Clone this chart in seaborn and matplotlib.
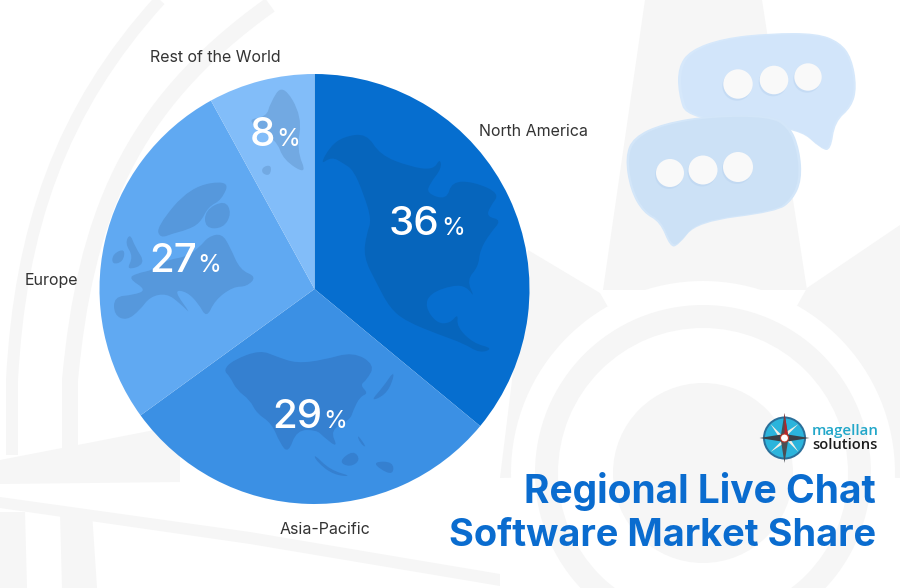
import matplotlib
matplotlib.use("Agg")
import matplotlib.pyplot as plt
import seaborn as sns
import numpy as np
from matplotlib.patches import Circle, Polygon, Wedge, PathPatch
from matplotlib.path import Path

regions = ["North America", "Asia-Pacific", "Europe", "Rest of the World"]
shares = [36, 29, 27, 8]
pie_colors = ["#066ecf", "#3b90e4", "#60a9f2", "#82bdf9"]
map_colors = ["#0665bc", "#3580d0", "#5698dc", "#72a9e2"]
title_lines = ["Regional Live Chat", "Software Market Share"]
title_sizes = [28, 27.3]

sns.set_theme(style="white")
plt.rcParams['font.family'] = ['Inter', 'DejaVu Sans']

H = 588
GREY = "#f6f6f6"


def flip(pts):
    return [(x, H - y) for x, y in pts]


def zoomed(pts):
    # outlines were traced on a 3x crop of the pie
    return [(90 + x / 3, 60 + y / 3) for x, y in pts]


def smooth(ax, pts, **kw):
    pts = flip(pts)
    start = ((pts[-1][0] + pts[0][0]) / 2, (pts[-1][1] + pts[0][1]) / 2)
    verts = [start]
    codes = [Path.MOVETO]
    n = len(pts)
    for i in range(n):
        a = pts[i]
        b = pts[(i + 1) % n]
        verts += [a, ((a[0] + b[0]) / 2, (a[1] + b[1]) / 2)]
        codes += [Path.CURVE3, Path.CURVE3]
    ax.add_patch(PathPatch(Path(verts, codes), **kw))


def shrink(pts, k):
    c = np.mean(pts, axis=0)
    return [tuple(c + (np.array(p) - c) * k) for p in pts]


fig = plt.figure(figsize=(9, 5.88), dpi=100)
ax = fig.add_axes([0, 0, 1, 1])

# pie first, it resets the limits
wedges, _ = ax.pie(shares, colors=pie_colors, startangle=90, counterclock=False,
                   center=(314.5, H - 289), radius=215, frame=True,
                   wedgeprops=dict(linewidth=0, zorder=2))
ax.set_xlim(0, 900)
ax.set_ylim(0, H)
ax.set_aspect("auto")
ax.axis("off")

# faint compass watermark
for shape in [
    [(645, 0), (762, 0), (807, 290), (603, 290)],
    [(528, 250), (600, 293), (703, 473), (500, 478)],
    [(807, 288), (900, 225), (900, 478), (703, 473)],
    [(0, 460), (88, 443), (180, 425), (180, 482), (0, 484)],
    [(0, 512), (25, 512), (27, 588), (0, 588)],
    [(60, 512), (92, 512), (97, 588), (62, 588)],
    [(0, 497), (250, 532), (500, 574), (500, 586), (250, 544), (0, 508)],
]:
    ax.add_patch(Polygon(flip(shape), closed=True, color=GREY, lw=0, zorder=0))
ax.add_patch(Circle((703, H - 473), 192, color="white", lw=0, zorder=0.1))
ax.add_patch(Wedge((703, H - 473), 168, 0, 360, width=23, color=GREY, lw=0, zorder=0.2))
ax.add_patch(Circle((703, H - 473), 90, color=GREY, lw=0, zorder=0.2))
arcs = [
    ([(160, 0), (60, 110), (20, 230), (12, 380), (12, 455)], 12),
    ([(270, 5), (127, 107), (85, 220), (70, 380), (70, 450)], 16),
]
for arc, w in arcs:
    verts = flip(arc)
    codes = [Path.MOVETO] + [Path.CURVE4] * 3 + [Path.LINETO]
    ax.add_patch(PathPatch(Path(verts, codes), fill=False, color=GREY, lw=w * 0.72, zorder=0.3))

# continent silhouettes on the slices
maps = [
    (0, [(720, 260), (760, 230), (830, 220), (870, 285), (960, 320), (1030, 330), (1050, 295), (1055, 325),
         (1020, 370), (1010, 400), (1070, 420), (1085, 365), (1150, 365), (1230, 400), (1200, 440), (1190, 470),
         (1235, 480), (1200, 520), (1170, 570), (1165, 620), (1130, 660), (1155, 715), (1130, 680), (1090, 675),
         (1020, 700), (1005, 740), (1040, 790), (1080, 790), (1105, 760), (1100, 800), (1150, 850), (1210, 865),
         (1170, 880), (1120, 850), (1050, 825), (950, 785), (900, 745), (860, 670), (820, 590), (830, 520),
         (845, 480), (820, 400), (790, 330), (760, 310), (725, 290), (690, 315)]),
    (1, [(400, 930), (430, 900), (510, 870), (560, 890), (620, 910), (700, 900), (790, 875), (855, 915),
         (830, 960), (810, 975), (835, 1000), (810, 1010), (790, 1050), (780, 1080), (720, 1110), (745, 1165),
         (700, 1130), (680, 1110), (620, 1110), (595, 1180), (570, 1150), (545, 1090), (500, 1060), (480, 1020),
         (440, 990), (420, 950)]),
    (1, [(670, 1180), (720, 1230), (790, 1250), (730, 1245), (680, 1205)]),
    (1, [(745, 1205), (790, 1170), (812, 1200), (780, 1222)]),
    (1, [(850, 1205), (910, 1205), (910, 1245), (870, 1228)]),
    (1, [(800, 1120), (832, 1165), (810, 1150)]),
    (1, [(840, 1025), (880, 980), (912, 932), (908, 965), (885, 1005)]),
    (2, [(72, 710), (130, 705), (170, 690), (115, 655), (140, 640), (190, 630), (230, 600), (290, 590),
         (330, 560), (355, 530), (395, 520), (420, 560), (450, 630), (500, 650), (470, 680), (430, 680),
         (375, 720), (350, 775), (325, 730), (290, 695), (250, 690), (305, 765), (270, 730), (230, 700),
         (180, 710), (150, 750), (110, 782), (72, 765)]),
    (2, [(200, 500), (300, 380), (420, 360), (395, 420), (355, 440), (330, 490), (290, 510), (250, 520), (210, 535)]),
    (2, [(345, 505), (345, 450), (405, 420), (425, 460), (400, 505)]),
    (2, [(120, 520), (135, 560), (168, 612), (108, 632), (130, 590), (105, 550)]),
    (2, [(68, 582), (105, 565), (100, 605), (66, 614)]),
    (3, [(540, 130), (578, 70), (637, 170), (620, 270), (652, 345), (580, 300), (560, 240), (465, 180), (530, 170)]),
    (3, [(518, 320), (545, 315), (540, 348), (515, 340)]),
]
for idx, outline in maps:
    smooth(ax, zoomed(outline), color=map_colors[idx], lw=0, zorder=3)

# percent labels, number and % sign apart
pct_pos = [(389, 235), (272, 428), (149, 272.5), (250, 145.5)]
for value, (x, y) in zip(shares, pct_pos):
    t = ax.text(x, H - y, str(value), color="white", fontsize=29, fontweight="medium",
                va="baseline", ha="left", zorder=5)
    fig.canvas.draw()
    bb = t.get_window_extent()
    ax.text(bb.x1 + 1, H - y, "%", color="white", fontsize=17.5, va="baseline", ha="left", zorder=5)

# region labels
label_pos = [(479, 132), (324.5, 529), (51, 280), (215, 57)]
label_ha = ["left", "center", "center", "center"]
for name, (x, y), ha in zip(regions, label_pos, label_ha):
    ax.text(x, H - y, name, color="#333333", fontsize=11.5, ha=ha, va="center", zorder=5)

# chat bubbles
back = [(678, 67), (690, 50), (723, 38), (770, 33), (817, 33), (840, 42), (852, 58), (857, 87), (852, 107),
        (835, 122), (831, 150), (822, 150), (797, 127), (687, 120), (678, 93)]
front = [(625, 157), (633, 137), (663, 123), (713, 115), (770, 115), (790, 125), (800, 150), (802, 180),
         (793, 200), (777, 212), (697, 222), (678, 246), (670, 247), (660, 222), (643, 213), (630, 190)]
smooth(ax, back, color="#d6e8fb", lw=0, zorder=3)
smooth(ax, shrink(back, 0.97), color="#d2e5fa", lw=0, zorder=3.1)
smooth(ax, front, color="#d3e6f9", lw=0, zorder=3.2)
smooth(ax, shrink(front, 0.97), color="#cce1f6", lw=0, zorder=3.3)
for x, y, r in [(738, 84, 14.7), (774, 80, 14.3), (808, 77, 13.7), (670, 173, 14), (703, 170, 14.5), (738, 167, 15)]:
    ax.add_patch(Circle((x - 1, H - y - 2), r, color="#b9d3ef", alpha=0.5, lw=0, zorder=3.6))
    ax.add_patch(Circle((x, H - y), r, color="#f9f9f9", lw=0, zorder=4))

# logo
cx, cy = 784.5, H - 438
ax.add_patch(Circle((cx, cy), 21.5, color="#2b6f9a", lw=0, zorder=4))
ax.add_patch(Circle((cx, cy), 19.5, color="#2bb4dc", lw=0, zorder=4))
d = 14
ax.add_patch(Polygon([(cx - 3, cy - 3), (cx - d, cy - d), (cx + 3, cy - 3), (cx + d, cy - d),
                      (cx + 3, cy + 3), (cx + d, cy + d), (cx - 3, cy + 3), (cx - d, cy + d)],
                     color="#f4efe6", lw=0, zorder=4.5))
ax.add_patch(Polygon([(cx - 4, cy), (cx, cy + 25), (cx + 4, cy), (cx, cy - 25)], color="#4a4f55", lw=0, zorder=5))
ax.add_patch(Polygon([(cx, cy), (cx, cy + 25), (cx + 4, cy)], color="#b5242a", lw=0, zorder=5.1))
ax.add_patch(Polygon([(cx, cy - 4), (cx + 25, cy), (cx, cy + 4), (cx - 25, cy)], color="#3a4047", lw=0, zorder=5))
ax.add_patch(Circle((cx, cy), 4, color="white", ec="#c0392b", lw=0.8, zorder=6))
ax.text(812, H - 431, "magellan", color="#22a7c9", fontsize=10.8, fontweight="semibold",
        family=["Open Sans"], va="center", ha="left", zorder=5)
ax.text(812, H - 445, "solutions", color="#1c1c1c", fontsize=10.6, fontweight="semibold",
        family=["Open Sans"], va="center", ha="left", zorder=5)

# title
for line, y, size in zip(title_lines, [503, 545.5], title_sizes):
    ax.text(876, H - y, line, color="#0a6ccf", fontsize=size, fontweight="bold", ha="right", va="baseline", zorder=5)

fig.savefig("out.png", dpi=100)
